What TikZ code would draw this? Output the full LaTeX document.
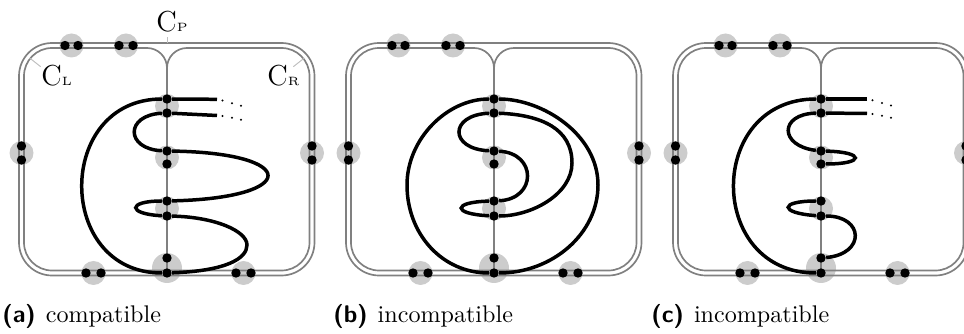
\documentclass[tikz,border=0pt]{standalone}
\usetikzlibrary{calc}
\begin{document}
\begin{tikzpicture}[x=0.415pt, y=0.415pt]
    \tikzset{
        surface/.style={draw=black!50, line width=0.7pt},
        halo/.style={fill=black!20},
        vertex/.style={circle, fill=black, inner sep=0pt, minimum size=3.9pt},
        strand/.style={line width=1.45pt},
        tick/.style={draw=black!25, line width=0.4pt},
        curvelabel/.style={anchor=base west, inner sep=0pt, font=\fontsize{12}{14}\selectfont},
        caption/.style={anchor=base west, inner sep=0pt}
    }
    \useasboundingbox (0,0) rectangle (964,334);

    % the three surfaces with their vertices
    \foreach \p/\dx in {a/0, b/327, c/654} {
        \begin{scope}[shift={(\dx,0)}]
            \foreach \x/\y in {71.5/288.5, 126/288.5, 21.5/181, 312/181, 93.5/61, 243.5/61,
                               167/228, 167/176.5, 167/125.5}
                \fill[halo] (\x,\y) circle (12);
            \fill[halo] (167,66) circle (15);

            \draw[surface, rounded corners=13.7pt] (19,58.5) rectangle (314.5,291);
            \draw[surface] (167,63.5) -- (52,63.5) arc[start angle=270, end angle=180, radius=28]
                -- (24,258) arc[start angle=180, end angle=90, radius=28]
                -- (147,286) arc[start angle=90, end angle=0, radius=20] -- cycle;
            \draw[surface] (167,63.5) -- (281.5,63.5) arc[start angle=270, end angle=360, radius=28]
                -- (309.5,258) arc[start angle=0, end angle=90, radius=28]
                -- (187,286) arc[start angle=90, end angle=180, radius=20] -- cycle;

            \foreach \n/\x in {1/65, 2/78, 3/119, 4/133}
                \node[vertex] (\p-t\n) at (\x,288.5) {};
            \foreach \n/\x in {1/86, 2/101, 3/236, 4/251}
                \node[vertex] (\p-b\n) at (\x,61) {};
            \node[vertex] (\p-l1) at (21.5,188) {};
            \node[vertex] (\p-l2) at (21.5,174) {};
            \node[vertex] (\p-r1) at (312,188) {};
            \node[vertex] (\p-r2) at (312,174) {};
            \foreach \n/\y in {1/235, 2/221, 3/183, 4/170, 5/133, 6/118, 7/76, 8/61}
                \node[vertex] (\p-m\n) at (167,\y) {};
        \end{scope}
    }

    % labels of the curves
    \node[curvelabel] (a-lp) at (156,302) {C{\tiny P}};
    \node[curvelabel] (a-ll) at (41,248) {C{\tiny L}};
    \node[curvelabel] (a-lr) at (267,248) {C{\tiny R}};
    \coordinate (a-tp) at (167,291);
    \coordinate (a-tl) at (29.6,276);
    \coordinate (a-tr) at (304.4,276);
    \draw[tick] (a-tp) -- ++(0,6);
    \draw[tick] (a-tl) -- (40.7,267.3);
    \draw[tick] (a-tr) -- (293.3,267.3);

    % (a) compatible
    \coordinate (a-e1) at (217,234.7);
    \coordinate (a-e2) at (217,218.5);
    \draw[strand] (a-e1) -- (a-m1);
    \draw[strand] (a-m1) .. controls (55,235) and (55,61) .. (a-m8);
    \draw[strand] (a-m8) .. controls (225,63) and (247,75) .. (247,89)
        .. controls (247,103) and (215,117) .. (a-m6);
    \draw[strand] (a-m6) .. controls (127,120) and (127,133) .. (a-m5);
    \draw[strand] (a-m5) .. controls (300,136) and (300,181) .. (a-m3);
    \draw[strand] (a-m3) .. controls (125,185) and (125,219) .. (a-m2);
    \draw[strand] (a-m2) -- (a-e2);
    \foreach \ox/\oy in {5.5/-1.3, 15/-4, 24/-6.5}
        \fill ($(a-e1)+(\ox,\oy)$) circle (1.1);
    \foreach \ox/\oy in {5.5/-0.5, 15/-2.2, 24/-4.2}
        \fill ($(a-e2)+(\ox,\oy)$) circle (1.1);

    % (b) incompatible
    \begin{scope}[shift={(327,0)}]
        \draw[strand] (b-m1) .. controls (215,235) and (271,200) .. (271,149)
            .. controls (271,100) and (225,61) .. (b-m8);
        \draw[strand] (b-m1) .. controls (120,235) and (80,195) .. (80,149)
            .. controls (80,100) and (115,61) .. (b-m8);
        \draw[strand] (b-m2) .. controls (215,219) and (245,205) .. (245,171)
            .. controls (245,140) and (205,118) .. (b-m6);
        \draw[strand] (b-m6) .. controls (125,120) and (125,132) .. (b-m5);
        \draw[strand] (b-m5) .. controls (210,135) and (210,181) .. (b-m3);
        \draw[strand] (b-m3) .. controls (122,185) and (122,219) .. (b-m2);
    \end{scope}

    % (c) incompatible
    \begin{scope}[shift={(654,0)}]
        \coordinate (c-e1) at (213,235);
        \coordinate (c-e2) at (213,220.5);
        \draw[strand] (c-e1) -- (c-m1);
        \draw[strand] (c-m1) .. controls (52,235) and (52,61) .. (c-m8);
        \draw[strand] (c-m7) .. controls (212,80) and (210,118) .. (c-m6);
        \draw[strand] (c-m6) .. controls (125,121) and (125,133) .. (c-m5);
        \draw[strand] (c-m3) .. controls (211,182) and (211,170) .. (c-m4);
        \draw[strand] (c-m3) .. controls (125,188) and (125,220) .. (c-m2);
        \draw[strand] (c-m2) -- (c-e2);
    \end{scope}
    \foreach \ox/\oy in {5.5/-1.3, 15/-4, 24/-6.5}
        \fill ($(c-e1)+(\ox,\oy)$) circle (1.1);
    \foreach \ox/\oy in {5.5/-0.5, 15/-2.2, 24/-4.2}
        \fill ($(c-e2)+(\ox,\oy)$) circle (1.1);

    % captions
    \node[caption] (capa) at (2,12) {\textsf{\textbf{(a)}}\hspace{4.2pt}compatible};
    \node[caption] (capb) at (333,12) {\textsf{\textbf{(b)}}\hspace{4.2pt}incompatible};
    \node[caption] (capc) at (651,12) {\textsf{\textbf{(c)}}\hspace{4.2pt}incompatible};
\end{tikzpicture}
\end{document}
